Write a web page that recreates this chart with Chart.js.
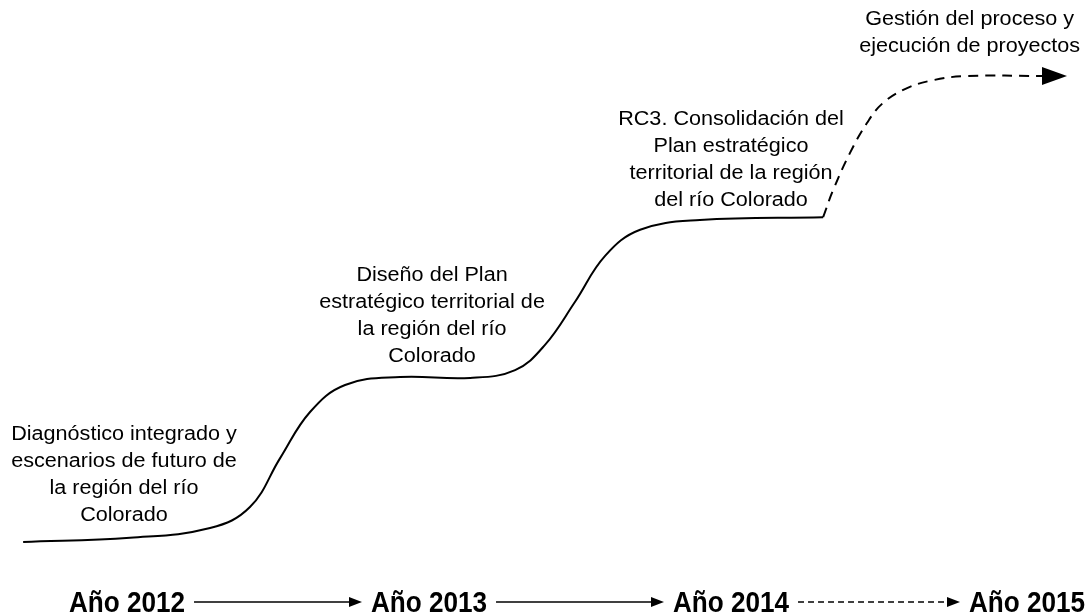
<!DOCTYPE html>
<html lang="es">
<head>
<meta charset="UTF-8" />
<title>Plan estratégico territorial de la región del río Colorado</title>
<script src="https://cdn.jsdelivr.net/npm/chart.js"></script>
<style>
  html, body { margin: 0; padding: 0; background: #fff; }
  #wrap { width: 1086px; height: 616px; position: relative; }
</style>
</head>
<body>
<div id="wrap"><canvas id="curva"></canvas></div>
<script>
// timeline at the bottom
const anios = [2012, 2013, 2014, 2015];
const etiquetasAnios = ["Año 2012", "Año 2013", "Año 2014", "Año 2015"];
const flechaPunteada = [false, false, true]; // last step is a projection

// solid part of the curve: x = year, y = level of progress (0..100)
const tramoX = [2011.666, 2012.020, 2012.285, 2012.417, 2012.517, 2012.616, 2012.732, 2012.914,
                2013.146, 2013.295, 2013.394, 2013.493, 2013.593, 2013.709, 2013.907, 2014.315];
const tramoY = [0, 0.9, 3.0, 7.5, 18.0, 27.9, 33.7, 35.4,
                35.2, 36.9, 42.3, 51.5, 61.4, 67.0, 69.1, 69.7];

// dashed part (projection up to 2015)
const proyX = [2014.315, 2014.348, 2014.404, 2014.460, 2014.513, 2014.593, 2014.679, 2014.791, 2015.043];
const proyY = [69.7, 75.5, 83.5, 89.9, 94.2, 97.4, 99.1, 100, 100];

// stage descriptions
const etapas = [
  ["Diagnóstico integrado y", "escenarios de futuro de", "la región del río", "Colorado"],
  ["Diseño del Plan", "estratégico territorial de", "la región del río", "Colorado"],
  ["RC3. Consolidación del", "Plan estratégico", "territorial de la región", "del río Colorado"],
  ["Gestión del proceso y", "ejecución de proyectos"]
];

// where each text block goes (center x in years, first baseline in level units)
const posEtapas = [
  { x: 2012.00, y: 21.9 },
  { x: 2013.02, y: 56.0 },
  { x: 2014.01, y: 89.5 },
  { x: 2014.80, y: 110.9 }
];

const puntos = (xs, ys) => xs.map((x, i) => ({ x: x, y: ys[i] }));

const textosPlugin = {
  id: "textos",
  afterDatasetsDraw(chart) {
    const ctx = chart.ctx;
    const sx = chart.scales.x, sy = chart.scales.y;

    // arrowhead at the end of the dashed curve
    const meta = chart.getDatasetMeta(1);
    const fin = meta.data[meta.data.length - 1];
    ctx.save();
    ctx.fillStyle = "#000";
    ctx.beginPath();
    ctx.moveTo(fin.x - 1, fin.y - 9);
    ctx.lineTo(fin.x + 24, fin.y);
    ctx.lineTo(fin.x - 1, fin.y + 9);
    ctx.closePath();
    ctx.fill();
    ctx.restore();

    // stage texts
    ctx.save();
    ctx.fillStyle = "#000";
    ctx.textAlign = "center";
    ctx.textBaseline = "alphabetic";
    ctx.font = '20px "Liberation Sans", Arial, Helvetica, sans-serif';
    etapas.forEach((lineas, i) => {
      const cx = sx.getPixelForValue(posEtapas[i].x);
      const y0 = sy.getPixelForValue(posEtapas[i].y);
      lineas.forEach((t, j) => {
        ctx.save();
        ctx.translate(cx, y0 + j * 27);
        ctx.scale(1.08, 1);
        ctx.fillText(t, 0, 0);
        ctx.restore();
      });
    });
    ctx.restore();

    // bottom timeline
    const base = chart.chartArea.bottom - 4;
    const escala = 0.9;
    ctx.save();
    ctx.fillStyle = "#000";
    ctx.strokeStyle = "#000";
    ctx.font = 'bold 29px "Liberation Sans", Arial, Helvetica, sans-serif';
    ctx.textAlign = "center";
    const bordes = anios.map((a, i) => {
      const cx = sx.getPixelForValue(a) + (i === anios.length - 1 ? -3 : 3);
      const w = ctx.measureText(etiquetasAnios[i]).width * escala;
      ctx.save();
      ctx.translate(cx, base);
      ctx.scale(escala, 1);
      ctx.fillText(etiquetasAnios[i], 0, 0);
      ctx.restore();
      return { izq: cx - w / 2, der: cx + w / 2 };
    });
    const yf = base - 10;
    for (let i = 0; i < anios.length - 1; i++) {
      const x1 = bordes[i].der + 9;
      const x2 = bordes[i + 1].izq - 9;
      ctx.lineWidth = 1.3;
      ctx.setLineDash(flechaPunteada[i] ? [6, 4] : []);
      ctx.beginPath();
      ctx.moveTo(x1, yf);
      ctx.lineTo(x2 - 10, yf);
      ctx.stroke();
      ctx.setLineDash([]);
      ctx.beginPath();
      ctx.moveTo(x2 - 13, yf - 5);
      ctx.lineTo(x2, yf);
      ctx.lineTo(x2 - 13, yf + 5);
      ctx.closePath();
      ctx.fill();
    }
    ctx.restore();
  }
};

new Chart(document.getElementById("curva"), {
  type: "line",
  data: {
    datasets: [
      {
        label: "Ejecutado",
        data: puntos(tramoX, tramoY),
        borderColor: "#000",
        borderWidth: 2,
        pointRadius: 0,
        tension: 0.4,
        fill: false
      },
      {
        label: "Proyección",
        data: puntos(proyX, proyY),
        borderColor: "#000",
        borderWidth: 2,
        borderDash: [10, 7],
        pointRadius: 0,
        tension: 0.4,
        fill: false
      }
    ]
  },
  options: {
    responsive: true,
    maintainAspectRatio: false,
    animation: false,
    events: [],
    layout: { padding: 0 },
    plugins: { legend: { display: false }, tooltip: { enabled: false } },
    scales: {
      x: { type: "linear", display: false, min: 2011.5894, max: 2015.1854 },
      y: { type: "linear", display: false, min: -15.88, max: 116.31 }
    }
  },
  plugins: [textosPlugin]
});
</script>
</body>
</html>
